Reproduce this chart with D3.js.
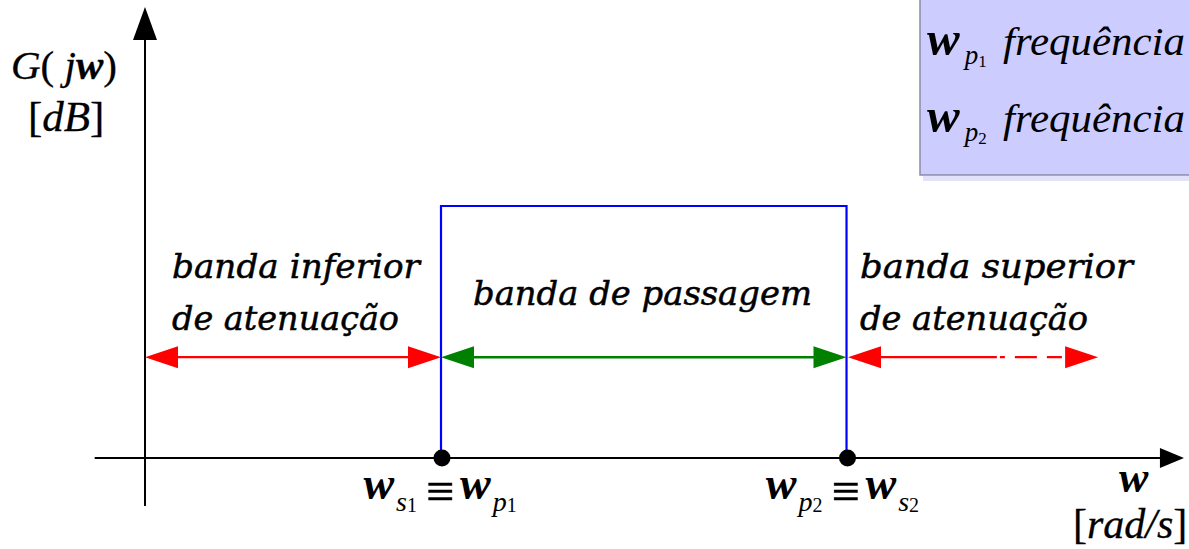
<!DOCTYPE html>
<html><head><meta charset="utf-8">
<script src="https://cdn.jsdelivr.net/npm/d3@7"></script>
<style>html,body{margin:0;padding:0;background:#fff;overflow:hidden}</style>
</head><body>
<svg id="c" width="1189" height="549"></svg>
<script>
// ---- data (relative frequency units, normalised gain) ----
const xDomain = [-0.17, 3.51];          // frequency axis extent
const yDomain = [-0.19, 1.79];          // gain axis extent
const passEdges = [1.0, 2.37];          // w_p1 (= w_s1), w_p2 (= w_s2)
const passGain = [1.0];                 // ideal passband gain
const arrowLevel = [0.40];              // height of the band arrows
const bandNames = ["lower", "pass", "upper"];
const bandStart = [0.0, 1.0, 2.375];
const bandEnd   = [1.0, 2.37, 3.22];
const bandColors = ["#ff0000", "#008000", "#ff0000"];
const bandLabels = [["banda inferior", "de atenuação"], ["banda de passagem"], ["banda superior", "de atenuação"]];
const upperSolidEnd = [2.878];          // where the upper band arrow turns dashed
const legendSubs = ["1", "2"];
const legendText = ["frequência", "frequência"];
const edgeSubs = [[["s", "1"], ["p", "1"]], [["p", "2"], ["s", "2"]]];

const svg = d3.select("#c");
const x = d3.scaleLinear().domain([0, 1]).range([145, 441]);
const y = d3.scaleLinear().domain([0, 1]).range([458, 206]);
const serif = "'Liberation Serif','Times New Roman',serif";

// ---- legend box ----
const lg = svg.append("g");
lg.append("rect").attr("x", 923).attr("y", 176).attr("width", 270).attr("height", 5).attr("fill", "#e2e2f8");
lg.append("rect").attr("x", 920).attr("y", -2).attr("width", 272).attr("height", 177).attr("fill", "#ccccff")
  .attr("stroke", "#8a8aa8").attr("stroke-width", 1.5);
legendSubs.forEach((s, i) => {
  const by = 55 + i * 77;
  const t = lg.append("text").attr("x", 927).attr("y", by).attr("font-family", serif).attr("fill", "#000");
  t.append("tspan").attr("font-size", 49).attr("font-weight", "bold").attr("font-style", "italic").text("w");
  t.append("tspan").attr("font-size", 27).attr("font-style", "italic").attr("dx", 5).attr("dy", 9).text("p");
  t.append("tspan").attr("font-size", 17).attr("dy", 3).text(s);
  lg.append("text").attr("x", 1003).attr("y", by).attr("font-family", serif).attr("font-style", "italic")
    .attr("font-size", 40).attr("textLength", 182).attr("lengthAdjust", "spacingAndGlyphs").text(legendText[i]);
});

// ---- axes ----
svg.append("line").attr("x1", x(xDomain[0])).attr("x2", x(xDomain[1]) - 20).attr("y1", y(0)).attr("y2", y(0))
  .attr("stroke", "#000").attr("stroke-width", 2);
svg.append("path").attr("d", `M${x(xDomain[1])},${y(0)} L${x(xDomain[1]) - 24},${y(0) - 10} L${x(xDomain[1]) - 24},${y(0) + 10}Z`).attr("fill", "#000");
svg.append("line").attr("x1", x(0)).attr("x2", x(0)).attr("y1", y(yDomain[0])).attr("y2", y(yDomain[1]) + 30)
  .attr("stroke", "#000").attr("stroke-width", 2);
svg.append("path").attr("d", `M${x(0)},${y(yDomain[1])} L${x(0) - 12},${y(yDomain[1]) + 33} L${x(0) + 12},${y(yDomain[1]) + 33}Z`).attr("fill", "#000");

// ---- ideal passband ----
svg.append("path")
  .attr("d", d3.line()([[x(passEdges[0]), y(0)], [x(passEdges[0]), y(passGain[0])], [x(passEdges[1]), y(passGain[0])], [x(passEdges[1]), y(0)]]))
  .attr("fill", "none").attr("stroke", "#0000ff").attr("stroke-width", 2.2);
svg.selectAll("circle.edge").data(passEdges).join("circle").attr("class", "edge")
  .attr("cx", d => x(d) + 1).attr("cy", y(0)).attr("r", 8.5).attr("fill", "#000");

// ---- band arrows ----
const HL = 33, HW = 11;
bandNames.forEach((b, i) => {
  const x0 = x(bandStart[i]), x1 = x(bandEnd[i]), yy = y(arrowLevel[0]), c = bandColors[i];
  const solidEnd = b === "upper" ? x(upperSolidEnd[0]) : x1 - HL + 2;
  svg.append("line").attr("x1", x0 + HL - 2).attr("x2", solidEnd).attr("y1", yy).attr("y2", yy)
    .attr("stroke", c).attr("stroke-width", b === "pass" ? 2.5 : 2.2);
  if (b === "upper") {
    svg.append("line").attr("x1", solidEnd + 3).attr("x2", x1 - HL + 1).attr("y1", yy).attr("y2", yy)
      .attr("stroke", c).attr("stroke-width", 2.2).attr("stroke-dasharray", "5,10,22,10,15,100");
  }
  svg.append("path").attr("d", `M${x0},${yy} L${x0 + HL},${yy - HW} L${x0 + HL},${yy + HW}Z`).attr("fill", c);
  svg.append("path").attr("d", `M${x1},${yy} L${x1 - HL},${yy - HW} L${x1 - HL},${yy + HW}Z`).attr("fill", c);
});

// ---- band labels ----
const bandFont = "'DejaVu Serif',serif";
const labelPos = [[172, [248, 227]], [473, [339]], [860, [273, 228]]];
bandLabels.forEach((lines, i) => {
  lines.forEach((ln, j) => {
    const by = lines.length === 1 ? 305 : 278 + j * 52;
    svg.append("text").attr("x", labelPos[i][0]).attr("y", by).attr("font-family", bandFont)
      .attr("font-style", "italic").attr("font-size", 33).attr("textLength", labelPos[i][1][j])
      .attr("lengthAdjust", "spacingAndGlyphs").attr("fill", "#000")
      .attr("stroke", "#000").attr("stroke-width", 0.5).text(ln);
  });
});

// ---- axis titles ----
const g1 = svg.append("text").attr("x", 11).attr("y", 79).attr("font-family", serif).attr("font-size", 41)
  .attr("stroke", "#000").attr("stroke-width", 0.3);
g1.append("tspan").attr("font-style", "italic").text("G");
g1.append("tspan").text("( ");
g1.append("tspan").attr("font-style", "italic").text("j");
g1.append("tspan").attr("font-style", "italic").attr("font-weight", "bold").text("w");
g1.append("tspan").text(")");
const g2 = svg.append("text").attr("x", 28).attr("y", 131).attr("font-family", serif).attr("font-size", 43)
  .attr("stroke", "#000").attr("stroke-width", 0.3);
g2.append("tspan").text("[");
g2.append("tspan").attr("font-style", "italic").text("dB");
g2.append("tspan").text("]");

svg.append("text").attr("x", 1119).attr("y", 492).attr("font-family", serif).attr("font-size", 44)
  .attr("font-weight", "bold").attr("font-style", "italic").text("w");
const g3 = svg.append("text").attr("x", 1073).attr("y", 538).attr("font-family", serif).attr("font-size", 42)
  .attr("stroke", "#000").attr("stroke-width", 0.3);
g3.append("tspan").text("[");
g3.append("tspan").attr("font-style", "italic").text("rad/s");
g3.append("tspan").text("]");

// ---- edge labels ----
function wsub(xx, anchor, sub, digit) {
  const t = svg.append("text").attr("x", xx).attr("y", 499).attr("font-family", serif)
    .attr("text-anchor", anchor).attr("fill", "#000");
  t.append("tspan").attr("font-size", 46).attr("font-weight", "bold").attr("font-style", "italic").text("w");
  t.append("tspan").attr("font-size", 28).attr("font-style", "italic").attr("dx", 2).attr("dy", 12).text(sub);
  t.append("tspan").attr("font-size", 20).attr("dy", 1).text(digit);
}
passEdges.forEach((e, i) => {
  const cx = x(e);
  wsub(cx - 24, "end", edgeSubs[i][0][0], edgeSubs[i][0][1]);
  svg.append("text").attr("x", cx - 1).attr("y", 508)
    .attr("text-anchor", "middle").attr("font-family", serif).attr("font-size", 50)
    .attr("stroke", "#000").attr("stroke-width", 0.5).text("≡");
  wsub(cx + 19, "start", edgeSubs[i][1][0], edgeSubs[i][1][1]);
});
</script>
</body></html>
